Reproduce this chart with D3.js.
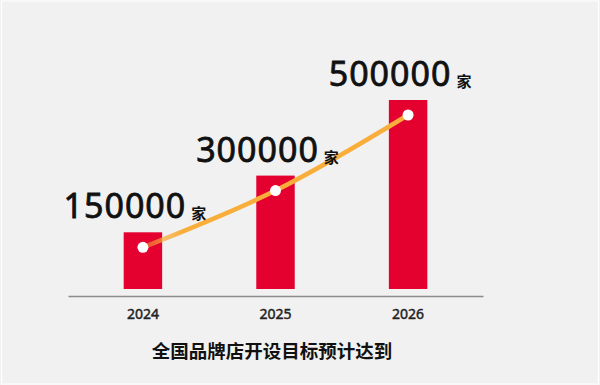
<!DOCTYPE html>
<html>
<head>
<meta charset="utf-8">
<script src="https://cdn.jsdelivr.net/npm/d3@7"></script>
<style>
  html, body { margin: 0; padding: 0; background: #f1f1f1; }
  svg { display: block; }
</style>
</head>
<body>
<div id="chart"></div>
<script>
var years = ["2024", "2025", "2026"];
var stores = [150000, 300000, 500000];
var unit = "家";
var title = "全国品牌店开设目标预计达到";

var w = 600;
var h = 385;

var data = years.map(function(y, i) { return { year: y, value: stores[i] }; });

var svg = d3.select("#chart")
			.append("svg")
			.attr("width", w)
			.attr("height", h);

svg.append("rect")
	.attr("x", 0).attr("y", 0)
	.attr("width", w).attr("height", h)
	.attr("fill", "#f1f1f1");

// thin white frame round the picture
svg.append("rect")
	.attr("x", 1.5).attr("y", 1)
	.attr("width", w - 3).attr("height", h - 2)
	.attr("fill", "none")
	.attr("stroke", "#ffffff")
	.attr("stroke-width", 1);

var xScale = d3.scaleBand()
				.domain(years)
				.range([68, 483])
				.paddingInner(0.71)
				.paddingOuter(0.42);

var yScale = d3.scaleLinear()
				.domain([0, 500000])
				.range([289, 100]);

// bars
svg.selectAll("rect.bar")
	.data(data)
	.enter()
	.append("rect")
	.attr("class", "bar")
	.attr("x", function(d) { return xScale(d.year); })
	.attr("y", function(d) { return yScale(d.value); })
	.attr("width", xScale.bandwidth())
	.attr("height", function(d) { return yScale(0) - yScale(d.value); })
	.attr("fill", "#e4002f");

// axis
var axis = svg.append("g")
	.attr("transform", "translate(0,296)")
	.call(d3.axisBottom(xScale).tickSize(0).tickPadding(13));

axis.select(".domain")
	.attr("stroke", "#8c8c8c")
	.attr("stroke-width", 1.5);

axis.selectAll("text")
	.attr("fill", "#222")
	.attr("stroke", "#222")
	.attr("stroke-width", 0.45)
	.style("font-family", "'Noto Sans', sans-serif")
	.style("font-size", "14px")
	.style("font-weight", 400);

// trend line through the dots
var cx = function(d) { return xScale(d.year) + xScale.bandwidth() / 2; };
var cy = function(d) { return yScale(d.value) + 15; };

var grad = svg.append("defs").append("linearGradient")
	.attr("id", "lineGrad")
	.attr("gradientUnits", "userSpaceOnUse")
	.attr("x1", cx(data[0]) - 6).attr("x2", cx(data[0]) + 40)
	.attr("y1", 0).attr("y2", 0);
grad.append("stop").attr("offset", 0).attr("stop-color", "#f9ad3a").attr("stop-opacity", 0.35);
grad.append("stop").attr("offset", 1).attr("stop-color", "#f9ad3a").attr("stop-opacity", 1);

var line = d3.line()
	.x(cx)
	.y(cy)
	.curve(d3.curveCatmullRom.alpha(0.5));

svg.append("path")
	.datum(data)
	.attr("d", line)
	.attr("fill", "none")
	.attr("stroke", "url(#lineGrad)")
	.attr("stroke-width", 4.5)
	.attr("stroke-linecap", "round");

svg.selectAll("circle.dot")
	.data(data)
	.enter()
	.append("circle")
	.attr("class", "dot")
	.attr("cx", cx)
	.attr("cy", cy)
	.attr("r", 5.5)
	.attr("fill", "#ffffff");

// value labels
var labels = svg.selectAll("text.val")
	.data(data)
	.enter()
	.append("text")
	.attr("class", "val")
	.attr("x", function(d) { return cx(d) - 8; })
	.attr("y", function(d) { return yScale(d.value) - 14; })
	.attr("text-anchor", "middle")
	.attr("fill", "#111");

labels.append("tspan")
	.attr("stroke", "#111")
	.attr("stroke-width", 0.8)
	.style("font-family", "'Noto Sans', sans-serif")
	.style("font-size", "34px")
	.style("font-weight", 400)
	.style("letter-spacing", "1px")
	.text(function(d) { return d.value; });

labels.append("tspan")
	.attr("dx", 5)
	.attr("dy", 1)
	.style("font-family", "'Noto Sans CJK SC', sans-serif")
	.style("font-size", "15px")
	.style("font-weight", 700)
	.text(unit);

// caption
svg.append("text")
	.attr("x", 272)
	.attr("y", 358)
	.attr("text-anchor", "middle")
	.attr("fill", "#111")
	.style("font-family", "'Noto Sans CJK SC', sans-serif")
	.style("font-size", "18.5px")
	.style("font-weight", 700)
	.text(title);
</script>
</body>
</html>
